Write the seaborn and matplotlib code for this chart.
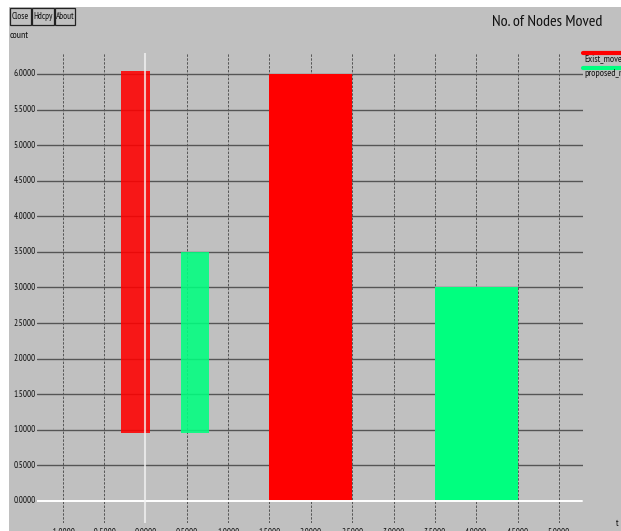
import matplotlib
matplotlib.use("Agg")
import matplotlib.pyplot as plt
from matplotlib.patches import Rectangle
import numpy as np
import pandas as pd
import seaborn as sns

# --- data -------------------------------------------------------------
series_names = ["Exist_move", "proposed_move"]
bar_series = ["Exist_move", "Exist_move", "proposed_move", "proposed_move"]
bar_x = [-0.12, 2.0, 0.6, 4.0]
bar_low = [0.95, 0.0, 0.95, 0.0]
bar_high = [6.04, 6.0, 3.5, 3.0]

x_ticks = [-1.0, -0.5, 0.0, 0.5, 1.0, 1.5, 2.0, 2.5, 3.0, 3.5, 4.0, 4.5, 5.0]
y_ticks = [0.0, 0.5, 1.0, 1.5, 2.0, 2.5, 3.0, 3.5, 4.0, 4.5, 5.0, 5.5, 6.0]
buttons = ["Close", "Hdcpy", "About"]
title_text = "No. of Nodes Moved"
y_label = "count"
x_label = "t"

# --- style ------------------------------------------------------------
BG = "#c0c0c0"
colors = {"Exist_move": "#ff0000", "proposed_move": "#00ff7f"}
bar_w = [0.36, 1.0, 0.35, 1.0]
bar_alpha = [0.88, 1.0, 0.88, 1.0]

sns.set_theme(style="white")
plt.rcParams["font.family"] = ["PT Sans Narrow", "DejaVu Sans"]
plt.rcParams["axes.unicode_minus"] = False

W, H = 621, 531
fig = plt.figure(figsize=(W / 100, H / 100), dpi=100, facecolor="white")

# gray window canvas (white margin at top and left)
fig.patches.append(Rectangle((9 / W, 0), 1 - 9 / W, 1 - 7 / H,
                             transform=fig.transFigure, facecolor=BG,
                             edgecolor="none", zorder=-5))

ax_l, ax_r, ax_t, ax_b = 37, 583, 53, 523
ax = fig.add_axes([ax_l / W, (H - ax_b) / H, (ax_r - ax_l) / W, (ax_b - ax_t) / H])
ax.set_zorder(1)
ax.patch.set_alpha(0)
for s in ax.spines.values():
    s.set_visible(False)

df = pd.DataFrame({"series": bar_series, "x": bar_x,
                   "low": bar_low, "high": bar_high})
df["span"] = df["high"] - df["low"]

for i, row in df.iterrows():
    sns.barplot(data=df.iloc[[i]], x="x", y="span", native_scale=True,
                width=bar_w[i], bottom=row["low"], color=colors[row["series"]],
                saturation=1, alpha=bar_alpha[i], linewidth=0, errorbar=None,
                ax=ax, zorder=2)

# grid: solid horizontal, dashed vertical, white zero axes
for yv in y_ticks:
    if yv == 0:
        continue
    ax.axhline(yv, color="#555555", lw=1.0, zorder=1)
for xv in x_ticks:
    if xv == 0:
        continue
    ax.axvline(xv, color="#555555", lw=0.7, ls=(0, (2.5, 1.5)), zorder=1)
ax.axhline(0, color="white", lw=1.4, zorder=3, xmax=0.998)
ax.axvline(0, color="#f4f4f4", lw=1.5, alpha=0.75, zorder=3)

ax.set_xlim(-1.31, 5.29)
ax.set_ylim(-0.31, 6.295)
ax.set_xticks([])
ax.set_yticks([])
ax.set_xlabel("")
ax.set_ylabel("")

tick_fs = 6.5
for yv in y_ticks:
    ax.text(-0.002, yv, f"{yv:.4f}", transform=ax.get_yaxis_transform(),
            ha="right", va="center", fontsize=tick_fs, color="#111111",
            clip_on=False)
for xv in x_ticks:
    ax.text(xv, -0.011, f"{xv:.4f}", transform=ax.get_xaxis_transform(),
            ha="center", va="top", fontsize=tick_fs, color="#111111",
            clip_on=False)

# legend strip at the right edge
leg_y = [53, 68]
for name, ly in zip(series_names, leg_y):
    fig.add_artist(plt.Line2D([583 / W, 1.0], [(H - ly) / H] * 2,
                              color=colors[name], lw=3, transform=fig.transFigure))
    fig.text(584 / W, (H - ly - 1.5) / H, name, ha="left", va="top",
             fontsize=7, color="#111111")

# window chrome
bx = [(10, 31), (32, 54), (55, 75)]
for label, (x0, x1) in zip(buttons, bx):
    fig.patches.append(Rectangle((x0 / W, (H - 25) / H), (x1 - x0) / W, 17 / H,
                                 transform=fig.transFigure, facecolor=BG,
                                 edgecolor="#222222", lw=0.9, zorder=2))
    fig.text((x0 + x1) / 2 / W, (H - 16.5) / H, label, ha="center",
             va="center", fontsize=6.5, color="#111111")

fig.text(10 / W, (H - 36) / H, y_label, ha="left", va="center",
         fontsize=7, color="#111111")
fig.text(602 / W, (H - 22) / H, title_text, ha="right", va="center",
         fontsize=11.5, color="#111111")
fig.text(616 / W, (H - 519) / H, x_label, ha="left", va="top",
         fontsize=7, color="#111111")

fig.savefig("out.png", dpi=100, facecolor="white")
